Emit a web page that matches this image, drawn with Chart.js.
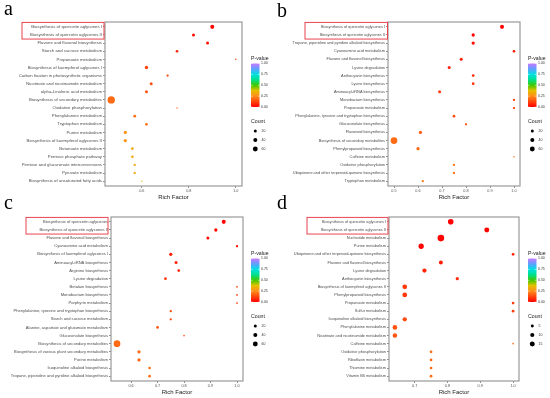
<!DOCTYPE html>
<html>
<head>
<meta charset="utf-8">
<script src="https://cdn.jsdelivr.net/npm/chart.js@4.4.1/dist/chart.umd.min.js"></script>
<style>
  body { margin: 0; background: #fff; width: 550px; height: 398px; position: relative; overflow: hidden; }
  canvas { position: absolute; }
</style>
</head>
<body>
<canvas id="cA" width="275" height="202" style="left:0;top:0"></canvas>
<canvas id="cB" width="275" height="202" style="left:275px;top:0"></canvas>
<canvas id="cC" width="275" height="202" style="left:0;top:195px"></canvas>
<canvas id="cD" width="275" height="202" style="left:275px;top:195px"></canvas>
<script>
// ---- data ----
const catsA = [
  'Biosynthesis of quercetin aglycones I', 'Biosynthesis of quercetin aglycones II',
  'Flavone and flavonol biosynthesis', 'Starch and sucrose metabolism', 'Propanoate metabolism',
  'Biosynthesis of kaempferol aglycones I', 'Carbon fixation in photosynthetic organisms',
  'Nicotinate and nicotinamide metabolism', 'alpha-Linolenic acid metabolism',
  'Biosynthesis of secondary metabolites', 'Oxidative phosphorylation', 'Phenylalanine metabolism',
  'Tryptophan metabolism', 'Purine metabolism', 'Biosynthesis of kaempferol aglycones II',
  'Butanoate metabolism', 'Pentose phosphate pathway', 'Pentose and glucuronate interconversions',
  'Pyruvate metabolism', 'Biosynthesis of unsaturated fatty acids'
];
const richA  = [0.90, 0.82, 0.88, 0.75, 1.00, 0.62, 0.71, 0.64, 0.62, 0.47, 0.75, 0.57, 0.62, 0.53, 0.53, 0.56, 0.56, 0.57, 0.57, 0.60];
const countA = [40, 20, 20, 15, 1, 26, 10, 20, 20, 145, 1, 18, 15, 25, 25, 15, 15, 10, 10, 1];
const pvalA  = [0.01, 0.02, 0.03, 0.06, 0.10, 0.12, 0.13, 0.14, 0.14, 0.19, 0.19, 0.20, 0.20, 0.27, 0.27, 0.32, 0.32, 0.33, 0.33, 0.36];

const catsB = [
  'Biosynthesis of quercetin aglycones I', 'Biosynthesis of quercetin aglycones II',
  'Tropane, piperidine and pyridine alkaloid biosynthesis', 'Cyanoamino acid metabolism',
  'Flavone and flavonol biosynthesis', 'Lysine degradation', 'Anthocyanin biosynthesis',
  'Lysine biosynthesis', 'Aminoacyl-tRNA biosynthesis', 'Monobactam biosynthesis',
  'Propanoate metabolism', 'Phenylalanine, tyrosine and tryptophan biosynthesis',
  'Glucosinolate biosynthesis', 'Flavonoid biosynthesis', 'Biosynthesis of secondary metabolites',
  'Phenylpropanoid biosynthesis', 'Caffeine metabolism', 'Oxidative phosphorylation',
  'Ubiquinone and other terpenoid-quinone biosynthesis', 'Tryptophan metabolism'
];
const richB  = [0.95, 0.83, 0.83, 1.00, 0.78, 0.73, 0.83, 0.83, 0.69, 1.00, 1.00, 0.75, 0.80, 0.61, 0.50, 0.60, 1.00, 0.75, 0.75, 0.62];
const countB = [40, 25, 25, 15, 20, 20, 15, 15, 20, 10, 10, 15, 10, 25, 120, 25, 1, 10, 10, 10];
const pvalB  = [0.005, 0.01, 0.02, 0.04, 0.05, 0.06, 0.08, 0.08, 0.10, 0.11, 0.11, 0.13, 0.14, 0.17, 0.19, 0.19, 0.20, 0.21, 0.21, 0.22];

const catsC = [
  'Biosynthesis of quercetin aglycones', 'Biosynthesis of quercetin aglycones II',
  'Flavone and flavonol biosynthesis', 'Cyanoamino acid metabolism',
  'Biosynthesis of kaempferol aglycones I', 'Aminoacyl-tRNA biosynthesis', 'Arginine biosynthesis',
  'Lysine degradation', 'Betalain biosynthesis', 'Monobactam biosynthesis', 'Porphyrin metabolism',
  'Phenylalanine, tyrosine and tryptophan biosynthesis', 'Starch and sucrose metabolism',
  'Alanine, aspartate and glutamate metabolism', 'Glucosinolate biosynthesis',
  'Biosynthesis of secondary metabolites', 'Biosynthesis of various plant secondary metabolites',
  'Purine metabolism', 'Isoquinoline alkaloid biosynthesis',
  'Tropane, piperidine and pyridine alkaloid biosynthesis'
];
const richC  = [0.95, 0.92, 0.89, 1.00, 0.75, 0.77, 0.78, 0.73, 1.00, 1.00, 1.00, 0.75, 0.75, 0.70, 0.80, 0.547, 0.63, 0.63, 0.67, 0.67];
const countC = [40, 25, 20, 10, 25, 20, 15, 15, 3, 3, 3, 10, 10, 15, 3, 120, 25, 25, 15, 15];
const pvalC  = [0.005, 0.01, 0.02, 0.04, 0.05, 0.06, 0.06, 0.09, 0.11, 0.11, 0.11, 0.13, 0.13, 0.15, 0.17, 0.19, 0.19, 0.19, 0.20, 0.20];

const catsD = [
  'Biosynthesis of quercetin aglycones I', 'Biosynthesis of quercetin aglycones II',
  'Nucleotide metabolism', 'Purine metabolism', 'Ubiquinone and other terpenoid-quinone biosynthesis',
  'Flavone and flavonol biosynthesis', 'Lysine degradation', 'Anthocyanin biosynthesis',
  'Biosynthesis of kaempferol aglycones II', 'Phenylpropanoid biosynthesis', 'Propanoate metabolism',
  'Sulfur metabolism', 'Isoquinoline alkaloid biosynthesis', 'Phenylalanine metabolism',
  'Nicotinate and nicotinamide metabolism', 'Caffeine metabolism', 'Oxidative phosphorylation',
  'Riboflavin metabolism', 'Thiamine metabolism', 'Vitamin B6 metabolism'
];
const richD  = [0.81, 0.92, 0.78, 0.72, 1.00, 0.78, 0.73, 0.83, 0.67, 0.67, 1.00, 1.00, 0.67, 0.64, 0.64, 1.00, 0.75, 0.75, 0.75, 0.75];
const countD = [19, 15, 27, 17, 4, 9, 11, 6, 13, 13, 4, 4, 11, 13, 12, 1, 4, 4, 4, 4];
const pvalD  = [0.002, 0.004, 0.005, 0.01, 0.05, 0.05, 0.07, 0.08, 0.10, 0.10, 0.11, 0.11, 0.13, 0.15, 0.15, 0.17, 0.19, 0.19, 0.19, 0.19];

const xTicksA = [0.6, 0.8, 1.0];
const xTicksB = [0.5, 0.6, 0.7, 0.8, 0.9, 1.0];
const xTicksC = [0.6, 0.7, 0.8, 0.9, 1.0];
const xTicksD = [0.7, 0.8, 0.9, 1.0];
const countTicksABC = [20, 40, 60];
const countTicksD = [5, 10, 15];
const pTicks = [0, 0.25, 0.5, 0.75, 1];

// p-value colour scale (red -> orange -> green -> cyan -> violet)
const pStops = [[0, '#ff0000'], [0.25, '#ff8c1a'], [0.375, '#e6c000'], [0.5, '#40c800'],
                [0.625, '#00e08c'], [0.75, '#00e0e0'], [0.875, '#60a0ff'], [1, '#c878ff']];

Chart.defaults.font.family = '"Liberation Sans", Arial, sans-serif';

function hexRgb(h) { return [1, 3, 5].map(i => parseInt(h.substr(i, 2), 16)); }
function colorAt(p) {
  for (let i = 1; i < pStops.length; i++) {
    if (p <= pStops[i][0]) {
      const t = (p - pStops[i - 1][0]) / (pStops[i][0] - pStops[i - 1][0]);
      const a = hexRgb(pStops[i - 1][1]), b = hexRgb(pStops[i][1]);
      return 'rgb(' + a.map((v, j) => Math.round(v + (b[j] - v) * t)).join(',') + ')';
    }
  }
  return pStops[pStops.length - 1][1];
}

const panels = [
  { id: 'cA', letter: 'a', lx: 4, ly: 15, cats: catsA, rich: richA, count: countA, pval: pvalA, xTicks: xTicksA,
    countTicks: countTicksABC, k: 0.3, c0: 5, yWidth: 105, padRight: 33, font: 4.3, boxLeft: 22, boxGap: 1, legX: 251 },
  { id: 'cB', letter: 'b', lx: 2, ly: 17, cats: catsB, rich: richB, count: countB, pval: pvalB, xTicks: xTicksB,
    countTicks: countTicksABC, k: 0.3, c0: 5, yWidth: 113, padRight: 30, font: 3.9, boxLeft: 30, boxGap: 0.5, legX: 253 },
  { id: 'cC', letter: 'c', lx: 4, ly: 13.5, cats: catsC, rich: richC, count: countC, pval: pvalC, xTicks: xTicksC,
    countTicks: countTicksABC, k: 0.3, c0: 5, yWidth: 111, padRight: 32, font: 4.1, boxLeft: 26, boxGap: 3, legX: 251 },
  { id: 'cD', letter: 'd', lx: 2, ly: 14, cats: catsD, rich: richD, count: countD, pval: pvalD, xTicks: xTicksD,
    countTicks: countTicksD, k: 0.632, c0: 0.6, yWidth: 114, padRight: 31, font: 3.9, boxLeft: 32, boxGap: 1, legX: 253 }
];

function decor(p, size) {
  return {
    id: 'decor',
    afterDraw(chart) {
      const ctx = chart.ctx, ca = chart.chartArea, y = chart.scales.y;
      ctx.save();
      // panel border
      ctx.strokeStyle = '#9a9a9a';
      ctx.lineWidth = 1.2;
      ctx.strokeRect(ca.left, ca.top, ca.right - ca.left, ca.bottom - ca.top);
      // red box round the first two pathways
      const t = y.getPixelForValue(-0.55), b = y.getPixelForValue(1.5);
      ctx.strokeStyle = '#e8454f';
      ctx.lineWidth = 1;
      ctx.strokeRect(p.boxLeft, t, ca.left - p.boxGap - p.boxLeft, b - t);
      // panel letter
      ctx.fillStyle = '#000';
      ctx.font = '20px "Liberation Serif", serif';
      ctx.textBaseline = 'alphabetic';
      ctx.fillText(p.letter, p.lx, p.ly);
      // colour bar legend
      const bx = p.legX, bw = 8.5, bt = 63.5, bb = 107;
      ctx.font = '5.2px "Liberation Sans", Arial, sans-serif';
      ctx.fillStyle = '#222';
      ctx.textBaseline = 'middle';
      ctx.fillText('P-value', bx, 58.5);
      const g = ctx.createLinearGradient(0, bb, 0, bt);
      pStops.forEach(s => g.addColorStop(s[0], s[1]));
      ctx.fillStyle = g;
      ctx.fillRect(bx, bt, bw, bb - bt);
      ctx.font = '3.5px "Liberation Sans", Arial, sans-serif';
      pTicks.forEach(v => {
        const ty = bb - v * (bb - bt);
        ctx.strokeStyle = '#fff';
        ctx.lineWidth = 0.5;
        ctx.beginPath();
        ctx.moveTo(bx, ty); ctx.lineTo(bx + 1.7, ty);
        ctx.moveTo(bx + bw - 1.7, ty); ctx.lineTo(bx + bw, ty);
        ctx.stroke();
        ctx.fillStyle = '#333';
        ctx.fillText(v.toFixed(2), bx + bw + 1.5, ty);
      });
      // count legend
      ctx.font = '5.2px "Liberation Sans", Arial, sans-serif';
      ctx.fillStyle = '#222';
      ctx.fillText('Count', bx, 121.5);
      ctx.font = '3.5px "Liberation Sans", Arial, sans-serif';
      p.countTicks.forEach((c, i) => {
        const cy = 131 + i * 9;
        ctx.fillStyle = '#000';
        ctx.beginPath();
        ctx.arc(bx + 4.3, cy, size(c), 0, Math.PI * 2);
        ctx.fill();
        ctx.fillStyle = '#333';
        ctx.fillText(String(c), bx + 10.5, cy);
      });
      ctx.restore();
    }
  };
}

panels.forEach(p => {
  const size = c => p.k * Math.sqrt(c + p.c0);
  const lo = Math.min(...p.rich), hi = Math.max(...p.rich), pad = (hi - lo) * 0.05;
  new Chart(document.getElementById(p.id), {
    type: 'bubble',
    data: {
      datasets: [{
        data: p.rich.map((x, i) => ({ x: x, y: i, r: size(p.count[i]) })),
        backgroundColor: p.pval.map(colorAt),
        borderWidth: 0,
        hoverRadius: 0
      }]
    },
    options: {
      responsive: false,
      animation: false,
      events: [],
      layout: { padding: { top: 22, right: p.padRight, bottom: 1, left: 0 } },
      plugins: { legend: { display: false }, tooltip: { enabled: false } },
      scales: {
        x: {
          type: 'linear',
          min: lo - pad,
          max: hi + pad,
          afterBuildTicks: s => { s.ticks = p.xTicks.map(v => ({ value: v })); },
          afterFit: s => { s.height = 15; },
          ticks: { callback: v => Number(v).toFixed(1), font: { size: 3.8 }, color: '#555', padding: 1, maxRotation: 0 },
          grid: { drawOnChartArea: false, tickLength: 2, color: '#444', lineWidth: 0.6 },
          border: { display: false },
          title: { display: true, text: 'Rich Factor', font: { size: 6 }, color: '#222', padding: 0 }
        },
        y: {
          type: 'linear',
          reverse: true,
          min: -0.6,
          max: p.cats.length - 0.4,
          afterBuildTicks: s => { s.ticks = p.cats.map((c, i) => ({ value: i })); },
          afterFit: s => { s.width = p.yWidth; },
          ticks: { callback: v => p.cats[v], autoSkip: false, font: { size: p.font }, color: '#4d4d4d', padding: 1 },
          grid: { drawOnChartArea: false, tickLength: 2, color: '#444', lineWidth: 0.6 },
          border: { display: false }
        }
      }
    },
    plugins: [decor(p, size)]
  });
});
</script>
</body>
</html>
